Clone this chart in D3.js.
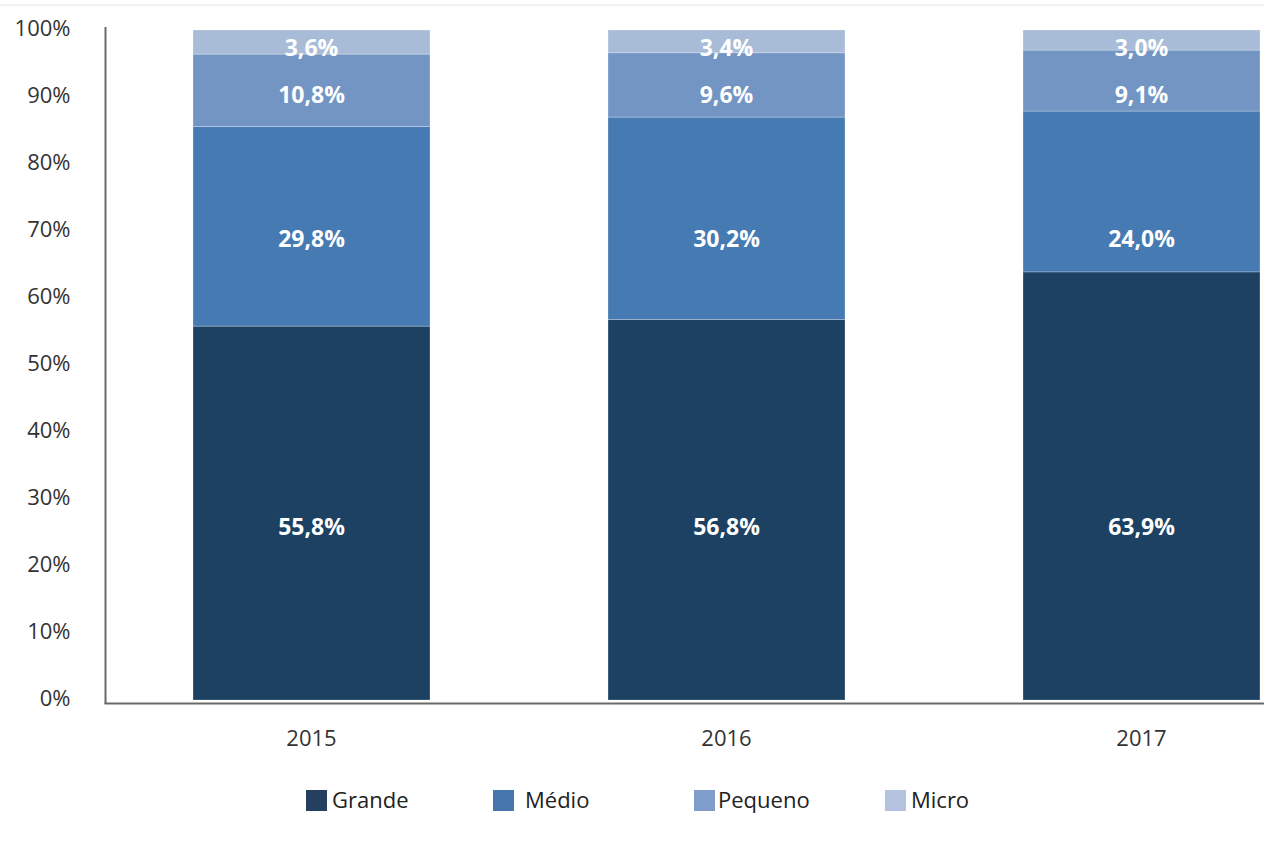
<!DOCTYPE html>
<html lang="pt">
<head>
<meta charset="utf-8">
<script src="https://cdn.jsdelivr.net/npm/d3@7"></script>
<style>
  html, body { margin: 0; padding: 0; background: #ffffff; }
  svg { display: block; font-family: "Open Sans", "Noto Sans", sans-serif; }
</style>
</head>
<body>
<svg id="chart" width="1264" height="843"></svg>
<script>
// Participação por porte da empresa (% do total), 2015–2017
const years = ["2015", "2016", "2017"];
const series = ["Grande", "Médio", "Pequeno", "Micro"];
const grande  = [55.8, 56.8, 63.9];
const medio   = [29.8, 30.2, 24.0];
const pequeno = [10.8,  9.6,  9.1];
const micro   = [ 3.6,  3.4,  3.0];
const yTicks  = [0, 10, 20, 30, 40, 50, 60, 70, 80, 90, 100];

const barColors    = ["#1d4162", "#467ab2", "#7395c4", "#a9bcd7"];
const legendColors = ["#253f5f", "#4676ae", "#809cca", "#b5c3e0"];

// Rows for the stack layout
const rows = years.map((yr, i) => ({
  year: yr,
  "Grande": grande[i], "Médio": medio[i], "Pequeno": pequeno[i], "Micro": micro[i]
}));
const stacked = d3.stack().keys(series)(rows);

const svg = d3.select("#chart");

const x = d3.scaleBand()
  .domain(years)
  .range([104, 1349])
  .paddingInner(0.429)
  .paddingOuter(0.2145);

const y = d3.scaleLinear().domain([0, 100]).range([700, 30]);

// faint frame line at the top
svg.append("line")
  .attr("x1", 0).attr("x2", 1264).attr("y1", 5).attr("y2", 5)
  .attr("stroke", "#f2f2f2").attr("stroke-width", 2);

// stacked bars
const layers = svg.append("g").selectAll("g")
  .data(stacked)
  .join("g")
  .attr("fill", (d, i) => barColors[i]);

layers.selectAll("rect")
  .data(d => d)
  .join("rect")
  .attr("x", d => x(d.data.year))
  .attr("width", x.bandwidth())
  .attr("y", d => y(d[1]))
  .attr("height", d => y(d[0]) - y(d[1]))
  .attr("stroke", "rgba(255,255,255,0.3)")
  .attr("stroke-width", 0.8);

// value labels: one shared row per series
const labelLevel = [25.8, 68.8, 90.3, 97.3];
const fmt = v => v.toFixed(1).replace(".", ",") + "%";
const labelG = svg.append("g")
  .attr("fill", "#ffffff")
  .attr("font-weight", 700)
  .attr("font-size", 23)
  .attr("text-anchor", "middle");
stacked.forEach((layer, si) => {
  labelG.selectAll(null)
    .data(layer)
    .join("text")
    .attr("x", d => x(d.data.year) + x.bandwidth() / 2)
    .attr("y", y(labelLevel[si]))
    .attr("dy", "0.35em")
    .text(d => fmt(d[1] - d[0]));
});

// y axis
const yAxis = d3.axisLeft(y)
  .tickValues(yTicks)
  .tickFormat(d => d + "%")
  .tickSize(0)
  .tickPadding(35);
const yg = svg.append("g").attr("transform", "translate(105.5,-2)").call(yAxis);
yg.select(".domain").remove();
yg.selectAll("text")
  .attr("font-family", "'Open Sans', sans-serif")
  .attr("font-size", 22)
  .attr("fill", "#333333");

// x axis labels
const xAxis = d3.axisBottom(x).tickSize(0).tickPadding(0);
const xg = svg.append("g").attr("transform", "translate(0,730)").call(xAxis);
xg.select(".domain").remove();
xg.selectAll("text")
  .attr("font-family", "'Open Sans', sans-serif")
  .attr("font-size", 22)
  .attr("fill", "#333333")
  .attr("dy", "0.71em");

// axis lines
svg.append("line")
  .attr("x1", 105.5).attr("x2", 105.5).attr("y1", 27).attr("y2", 704)
  .attr("stroke", "#6a6a6a").attr("stroke-width", 2);
svg.append("line")
  .attr("x1", 104.5).attr("x2", 1264).attr("y1", 703.5).attr("y2", 703.5)
  .attr("stroke", "#6a6a6a").attr("stroke-width", 2);

// legend
const legendX = [306, 493, 694, 885];
const legendTextGap = [26, 32, 24, 26];
const legend = svg.append("g").selectAll("g")
  .data(series)
  .join("g")
  .attr("transform", (d, i) => `translate(${legendX[i]},790)`);
legend.append("rect")
  .attr("width", 21).attr("height", 21)
  .attr("fill", (d, i) => legendColors[i]);
legend.append("text")
  .attr("x", (d, i) => legendTextGap[i])
  .attr("y", 10.5)
  .attr("dy", "0.35em")
  .attr("font-size", 22)
  .attr("fill", "#222222")
  .text(d => d);
</script>
</body>
</html>
